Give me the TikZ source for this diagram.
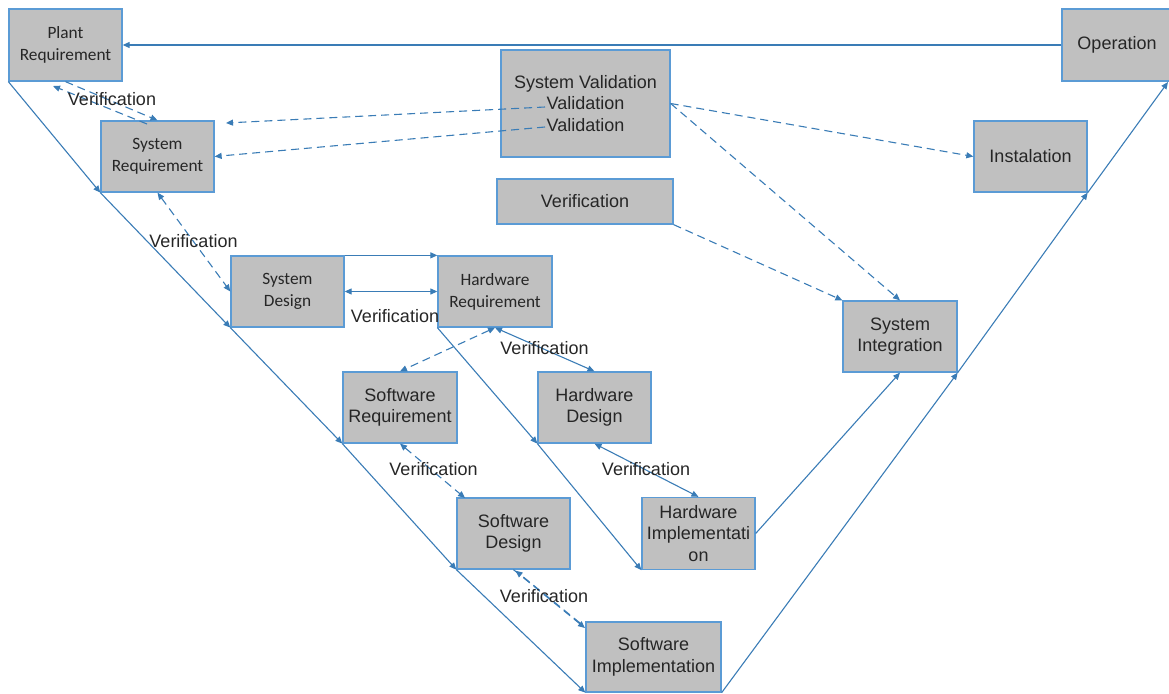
\documentclass[tikz,border=0pt]{standalone}
\usepackage{fontspec}
\setmainfont{Liberation Sans}
\newfontfamily\calibri{Carlito}
\usetikzlibrary{arrows.meta,calc}
\definecolor{boxfill}{HTML}{C0C0C0}
\definecolor{boxedge}{HTML}{5B9BD5}
\definecolor{linkcol}{HTML}{3A7CB6}
\definecolor{ink}{HTML}{262626}

\begin{document}
\begin{tikzpicture}[x=1pt,y=-1pt,
  box/.style={draw=boxedge, fill=boxfill, line width=1.3pt, inner sep=1pt,
    align=center, text=ink, font=\fontsize{18}{21.5}\selectfont},
  smallbox/.style={box, font=\calibri\fontsize{17.3}{22}\selectfont},
  tip/.tip={Triangle[length=7pt,width=6pt]},
  link/.style={draw=linkcol, line width=1.1pt, -tip},
  both/.style={link, tip-tip},
  dashlink/.style={link, dash pattern=on 8pt off 5pt},
  dashboth/.style={both, dash pattern=on 8pt off 5pt},
  lbl/.style={font=\fontsize{18}{21}\selectfont, text=ink, inner sep=0pt}]
\useasboundingbox (0,0) rectangle (1169,693);

% process boxes
\node[smallbox, minimum width=113pt, minimum height=72pt] (pr)   at (65.5,45)   {\raisebox{-2pt}{Plant}\\\raisebox{-2pt}{Requirement}};
\node[smallbox, minimum width=113pt, minimum height=71pt] (sr)   at (157.5,156.5) {\raisebox{-2pt}{System}\\\raisebox{-2pt}{Requirement}};
\node[smallbox, minimum width=113pt, minimum height=71pt] (sd)   at (287.5,291.5) {\raisebox{-2pt}{System}\\\raisebox{-2pt}{Design}};
\node[smallbox, minimum width=114pt, minimum height=71pt] (hr)   at (495,291.5)   {\raisebox{-2pt}{Hardware}\\\raisebox{-2pt}{Requirement}};
\node[box, minimum width=114pt, minimum height=71pt] (swr)  at (400,407.5)   {Software\\Requirement};
\node[box, minimum width=113pt, minimum height=71pt] (hd)   at (594.5,407.5) {Hardware\\Design};
\node[box, minimum width=113pt, minimum height=71pt] (swd)  at (513.5,533.5) {Software\\Design};
\node[box, minimum width=113pt, minimum height=72pt] (hi)   at (698.5,533.5) {Hardware\\Implementati\\on};
\node[box, minimum width=135pt, minimum height=70pt] (swi)  at (653.5,657)   {Software\\Implementation};
\node[box, minimum width=114pt, minimum height=71pt] (sint) at (900,336.5)   {System\\Integration};
\node[box, minimum width=113pt, minimum height=71pt] (ins)  at (1030.5,156.5) {Instalation};
\node[box, minimum width=110pt, minimum height=72pt] (op)   at (1117,45)     {Operation};
\node[box, minimum width=169pt, minimum height=107pt] (sv)  at (585.5,103.5) {System Validation\\Validation\\Validation};
\node[box, minimum width=176pt, minimum height=45pt] (ver)  at (585,201.5)   {Verification};

% free ends of some connectors
\coordinate (svA)  at (545,107);
\coordinate (svB)  at (545,127);
\coordinate (srA)  at (226,123);
\coordinate (prA)  at (53,86);
\coordinate (srB)  at (147,124);
\coordinate (opc)  at (1168,82);
\coordinate (swdA) at (465,498);
\coordinate (swiA) at (585,628);
\coordinate (swiB) at (580,623);

% left leg of the V
\draw[link] (pr.south west) -- (sr.south west);
\draw[link] (sr.south west) -- (sd.south west);
\draw[link] (sd.south west) -- (swr.south west);
\draw[link] (swr.south west) -- (swd.south west);
\draw[link] (swd.south west) -- (swi.south west);

% hardware branch
\draw[link] (hr.south west) -- (hd.south west);
\draw[link] (hd.south west) -- (hi.south west);

% right leg of the V
\draw[link] (swi.south east) -- (sint.south east);
\draw[link] (sint.south east) -- (ins.south east);
\draw[link] (ins.south east) -- (opc);
\draw[link] (hi.east) -- (sint.south);
\draw[link] (op.west) -- (pr.east);

% system design to hardware requirement
\draw[link] (sd.north east) -- (hr.north west);
\draw[both] (sd.east) -- (hr.west);

% verification links
\draw[dashlink] (pr.south) -- (sr.north);
\draw[dashlink] (srB) -- (prA);
\draw[dashboth] (sr.south) -- (sd.west);
\draw[dashboth] (hr.south) -- (swr.north);
\draw[both] (hr.south) -- (hd.north);
\draw[dashboth] (swr.south) -- (swdA);
\draw[both] (hd.south) -- (hi.north);
\draw[dashlink] (swd.south) -- (swiA);
\draw[dashlink] (swiB) -- ($(swd.south)+(2,1)$);

% validation links
\draw[dashlink] (svA) -- (srA);
\draw[dashlink] (svB) -- (sr.east);
\draw[dashlink] (sv.east) -- (ins.west);
\draw[dashlink] (sv.east) -- (sint.north);
\draw[dashlink] (ver.south east) -- (sint.north west);

% labels
\node[lbl] (v1) at (112,99)    {Verification};
\node[lbl] (v2) at (193.5,241) {Verification};
\node[lbl] (v3) at (395,316)   {Verification};
\node[lbl] (v4) at (544.5,348) {Verification};
\node[lbl] (v5) at (433.5,469) {Verification};
\node[lbl] (v6) at (646,469)   {Verification};
\node[lbl] (v7) at (544,596)   {Verification};
\end{tikzpicture}
\end{document}
